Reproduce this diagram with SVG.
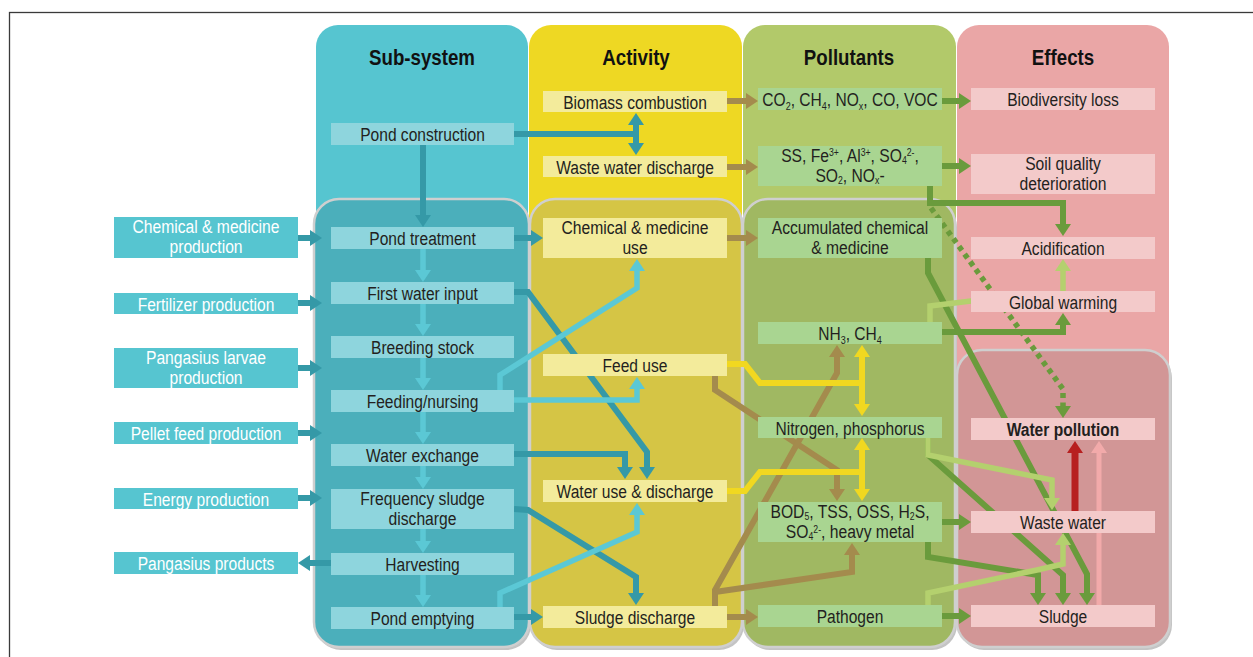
<svg xmlns="http://www.w3.org/2000/svg" width="1253" height="657" viewBox="0 0 1253 657">
<defs>
<style>
.t{font-family:"Liberation Sans",Arial,sans-serif;font-size:19px;fill:#231F20;text-anchor:middle}
.t2{font-size:18px}
.tw{fill:#FFFFFF}
.tb{font-weight:bold}
.hd{font-family:"Liberation Sans",Arial,sans-serif;font-size:22px;font-weight:bold;fill:#111;text-anchor:middle}
.sb{font-size:11px}
.s2{font-size:10px}
.ln{fill:none;stroke-linejoin:miter}
.teal{stroke:#3599A7;stroke-width:6}
.cyan{stroke:#5BC8D5;stroke-width:5.5}
.brown{stroke:#A48B4D;stroke-width:6}
.yel{stroke:#F1D820;stroke-width:6}
.dg{stroke:#6A9B3C;stroke-width:6}
.lg{stroke:#B4D06E;stroke-width:5.5}
.red{stroke:#B71F1F;stroke-width:7}
.pink{stroke:#F2AAAA;stroke-width:5}
.dot{stroke:#6A9B3C;stroke-width:5.5;stroke-dasharray:5 4.5}
.bc{fill:#8ED5DD}
.be{fill:#56C5D0}
.by{fill:#F3EB9B}
.bg{fill:#A9D591}
.bp{fill:#F3CACA}
.inner{stroke:#CFCFCF;stroke-width:2.5}
.shadow{fill:#C4C4C4}
</style>
<marker id="m-teal" viewBox="0 0 12 16" refX="1" refY="8" markerWidth="12" markerHeight="16" markerUnits="userSpaceOnUse" orient="auto-start-reverse"><path d="M0,0L12,8L0,16z" fill="#3599A7"/></marker>
<marker id="m-cyan" viewBox="0 0 12 16" refX="1" refY="8" markerWidth="12" markerHeight="16" markerUnits="userSpaceOnUse" orient="auto-start-reverse"><path d="M0,0L12,8L0,16z" fill="#5BC8D5"/></marker>
<marker id="m-brown" viewBox="0 0 12 16" refX="1" refY="8" markerWidth="12" markerHeight="16" markerUnits="userSpaceOnUse" orient="auto-start-reverse"><path d="M0,0L12,8L0,16z" fill="#A48B4D"/></marker>
<marker id="m-yel" viewBox="0 0 12 16" refX="1" refY="8" markerWidth="12" markerHeight="16" markerUnits="userSpaceOnUse" orient="auto-start-reverse"><path d="M0,0L12,8L0,16z" fill="#F1D820"/></marker>
<marker id="m-dg" viewBox="0 0 12 16" refX="1" refY="8" markerWidth="12" markerHeight="16" markerUnits="userSpaceOnUse" orient="auto-start-reverse"><path d="M0,0L12,8L0,16z" fill="#6A9B3C"/></marker>
<marker id="m-lg" viewBox="0 0 12 16" refX="1" refY="8" markerWidth="12" markerHeight="16" markerUnits="userSpaceOnUse" orient="auto-start-reverse"><path d="M0,0L12,8L0,16z" fill="#B4D06E"/></marker>
<marker id="m-red" viewBox="0 0 12 16" refX="1" refY="8" markerWidth="12" markerHeight="16" markerUnits="userSpaceOnUse" orient="auto-start-reverse"><path d="M0,0L12,8L0,16z" fill="#B71F1F"/></marker>
<marker id="m-pink" viewBox="0 0 12 16" refX="1" refY="8" markerWidth="12" markerHeight="16" markerUnits="userSpaceOnUse" orient="auto-start-reverse"><path d="M0,0L12,8L0,16z" fill="#F2AAAA"/></marker>
</defs>
<rect x="0" y="0" width="1253" height="657" fill="#FFFFFF"/>
<rect x="9.5" y="12.5" width="1300" height="700" fill="none" stroke="#3a3a3a" stroke-width="1.3"/>

<g id="panels">
<rect x="316" y="25" width="212" height="300" rx="22" fill="#56C5D0"/>
<rect x="529" y="25" width="213" height="300" rx="22" fill="#EED823"/>
<rect x="743" y="25" width="213" height="300" rx="22" fill="#B2C96A"/>
<rect x="957" y="25" width="212" height="420" rx="22" fill="#EAA6A6"/>
<rect class="shadow" x="316" y="202" width="215" height="448" rx="25"/>
<rect class="inner" x="314" y="199" width="215" height="448" rx="25" fill="#4BAFBB"/>
<rect class="shadow" x="532" y="202" width="212" height="448" rx="25"/>
<rect class="inner" x="530" y="199" width="212" height="448" rx="25" fill="#D5C545"/>
<rect class="shadow" x="745" y="202" width="212" height="448" rx="25"/>
<rect class="inner" x="743" y="199" width="212" height="448" rx="25" fill="#A0B862"/>
<rect class="shadow" x="959" y="353" width="213" height="297" rx="25"/>
<rect class="inner" x="957" y="350" width="213" height="297" rx="25" fill="#D29696"/>
<text class="hd" transform="translate(422 65) scale(.85 1)">Sub-system</text>
<text class="hd" transform="translate(636 65) scale(.85 1)">Activity</text>
<text class="hd" transform="translate(849 65) scale(.85 1)">Pollutants</text>
<text class="hd" transform="translate(1063 65) scale(.85 1)">Effects</text>
</g>

<g id="connectors">
<!-- teal -->
<path class="ln teal" d="M423,145V216" marker-end="url(#m-teal)"/>
<path class="ln teal" d="M514,134H636"/>
<path class="ln teal" d="M636,124V144" marker-start="url(#m-teal)" marker-end="url(#m-teal)"/>
<path class="ln teal" d="M514,238H532" marker-end="url(#m-teal)"/>
<path class="ln teal" d="M514,292H528L647,452V468" marker-end="url(#m-teal)"/>
<path class="ln teal" d="M514,454H625V468" marker-end="url(#m-teal)"/>
<path class="ln teal" d="M514,509L528,510L636,577V594" marker-end="url(#m-teal)"/>
<path class="ln teal" d="M514,617H532" marker-end="url(#m-teal)"/>
<path class="ln teal" d="M331,563H309" marker-end="url(#m-teal)"/>
<path class="ln teal" d="M298,238H311" marker-end="url(#m-teal)"/>
<path class="ln teal" d="M298,303H311" marker-end="url(#m-teal)"/>
<path class="ln teal" d="M298,368H311" marker-end="url(#m-teal)"/>
<path class="ln teal" d="M298,433H311" marker-end="url(#m-teal)"/>
<path class="ln teal" d="M298,498H311" marker-end="url(#m-teal)"/>
<!-- light cyan -->
<path class="ln cyan" d="M423,249V271" marker-end="url(#m-cyan)"/>
<path class="ln cyan" d="M423,304V325" marker-end="url(#m-cyan)"/>
<path class="ln cyan" d="M423,358V379" marker-end="url(#m-cyan)"/>
<path class="ln cyan" d="M423,412V433" marker-end="url(#m-cyan)"/>
<path class="ln cyan" d="M423,466V478" marker-end="url(#m-cyan)"/>
<path class="ln cyan" d="M423,529V542" marker-end="url(#m-cyan)"/>
<path class="ln cyan" d="M423,575V596" marker-end="url(#m-cyan)"/>
<path class="ln cyan" d="M500,390V375L637,288V270" marker-end="url(#m-cyan)"/>
<path class="ln cyan" d="M514,400H637V388" marker-end="url(#m-cyan)"/>
<path class="ln cyan" d="M500,607V593L637,532V514" marker-end="url(#m-cyan)"/>
<!-- brown -->
<path class="ln brown" d="M727,101H747" marker-end="url(#m-brown)"/>
<path class="ln brown" d="M727,167H747" marker-end="url(#m-brown)"/>
<path class="ln brown" d="M727,238H747" marker-end="url(#m-brown)"/>
<path class="ln brown" d="M727,617H747" marker-end="url(#m-brown)"/>
<path class="ln brown" d="M715,376V390L837,470V490" marker-end="url(#m-brown)"/>
<path class="ln brown" d="M715,606V590L837,373V356" marker-end="url(#m-brown)"/>
<path class="ln brown" d="M715,592L852,572V554" marker-end="url(#m-brown)"/>
<!-- yellow -->
<path class="ln yel" d="M727,364H745L760,383H862"/>
<path class="ln yel" d="M862,356V405" marker-start="url(#m-yel)" marker-end="url(#m-yel)"/>
<path class="ln yel" d="M727,491H745L760,472H862"/>
<path class="ln yel" d="M862,449V490" marker-start="url(#m-yel)" marker-end="url(#m-yel)"/>
<!-- dark green -->
<path class="ln dg" d="M942,101H960" marker-end="url(#m-dg)"/>
<path class="ln dg" d="M942,166H960" marker-end="url(#m-dg)"/>
<path class="ln dg" d="M930,186V203H1063V225" marker-end="url(#m-dg)"/>
<path class="ln dg" d="M942,332H1063V324" marker-end="url(#m-dg)"/>
<path class="ln dg" d="M928,258V273L1087,574V594" marker-end="url(#m-dg)"/>
<path class="ln dg" d="M928,438V455L1063,575V594" marker-end="url(#m-dg)"/>
<path class="ln dg" d="M942,522H960" marker-end="url(#m-dg)"/>
<path class="ln dg" d="M928,542V557L1038,575V594" marker-end="url(#m-dg)"/>
<path class="ln dg" d="M942,616H960" marker-end="url(#m-dg)"/>
<path class="ln dot" d="M931,208L1063,389V407" marker-end="url(#m-dg)"/>
<!-- light green -->
<path class="ln lg" d="M930,322V306L971,301L1063,298V270" marker-end="url(#m-lg)"/>
<path class="ln lg" d="M928,438V455L1052,480V499" marker-end="url(#m-lg)"/>
<path class="ln lg" d="M928,605V593L1037,570L1063,564V544" marker-end="url(#m-lg)"/>
<!-- to water pollution -->
<path class="ln red" d="M1075,511V452" marker-end="url(#m-red)"/>
<path class="ln pink" d="M1099,605V452" marker-end="url(#m-pink)"/>
</g>

<g id="n-chem-prod"><rect class="be" x="114" y="217" width="184" height="41"/><text class="t t2 tw" transform="translate(206 233) scale(.87 1)"><tspan x="0">Chemical &amp; medicine</tspan><tspan x="0" dy="20.3">production</tspan></text></g>
<g id="n-fertilizer"><rect class="be" x="114" y="293" width="184" height="21"/><text class="t tw" transform="translate(206 310.5) scale(.82 1)">Fertilizer production</text></g>
<g id="n-larvae"><rect class="be" x="114" y="348" width="184" height="40"/><text class="t t2 tw" transform="translate(206 364) scale(.87 1)"><tspan x="0">Pangasius larvae</tspan><tspan x="0" dy="20.3">production</tspan></text></g>
<g id="n-pellet"><rect class="be" x="114" y="422" width="184" height="22"/><text class="t tw" transform="translate(206 439.5) scale(.82 1)">Pellet feed production</text></g>
<g id="n-energy"><rect class="be" x="114" y="488" width="184" height="21"/><text class="t tw" transform="translate(206 505.5) scale(.82 1)">Energy production</text></g>
<g id="n-products"><rect class="be" x="114" y="552" width="184" height="22"/><text class="t tw" transform="translate(206 569.5) scale(.82 1)">Pangasius products</text></g>

<g id="n-pond-construction"><rect class="bc" x="331" y="123" width="183" height="22"/><text class="t" transform="translate(422.5 141) scale(.82 1)">Pond construction</text></g>
<g id="n-pond-treatment"><rect class="bc" x="331" y="227" width="183" height="22"/><text class="t" transform="translate(422.5 245) scale(.82 1)">Pond treatment</text></g>
<g id="n-first-water"><rect class="bc" x="331" y="282" width="183" height="22"/><text class="t" transform="translate(422.5 300) scale(.82 1)">First water input</text></g>
<g id="n-breeding"><rect class="bc" x="331" y="336" width="183" height="22"/><text class="t" transform="translate(422.5 354) scale(.82 1)">Breeding stock</text></g>
<g id="n-feeding"><rect class="bc" x="331" y="390" width="183" height="22"/><text class="t" transform="translate(422.5 408) scale(.82 1)">Feeding/nursing</text></g>
<g id="n-water-exchange"><rect class="bc" x="331" y="444" width="183" height="22"/><text class="t" transform="translate(422.5 462) scale(.82 1)">Water exchange</text></g>
<g id="n-freq-sludge"><rect class="bc" x="331" y="489" width="183" height="40"/><text class="t t2" transform="translate(422.5 505) scale(.87 1)"><tspan x="0">Frequency sludge</tspan><tspan x="0" dy="20.3">discharge</tspan></text></g>
<g id="n-harvesting"><rect class="bc" x="331" y="553" width="183" height="22"/><text class="t" transform="translate(422.5 571) scale(.82 1)">Harvesting</text></g>
<g id="n-pond-emptying"><rect class="bc" x="331" y="607" width="183" height="22"/><text class="t" transform="translate(422.5 625) scale(.82 1)">Pond emptying</text></g>

<g id="n-biomass"><rect class="by" x="543" y="91" width="184" height="21"/><text class="t" transform="translate(635 108.5) scale(.82 1)">Biomass combustion</text></g>
<g id="n-ww-discharge"><rect class="by" x="543" y="156" width="184" height="21"/><text class="t" transform="translate(635 173.5) scale(.82 1)">Waste water discharge</text></g>
<g id="n-chem-use"><rect class="by" x="543" y="218" width="184" height="40"/><text class="t t2" transform="translate(635 234) scale(.87 1)"><tspan x="0">Chemical &amp; medicine</tspan><tspan x="0" dy="20.3">use</tspan></text></g>
<g id="n-feed-use"><rect class="by" x="543" y="354" width="184" height="22"/><text class="t" transform="translate(635 372) scale(.82 1)">Feed use</text></g>
<g id="n-water-use"><rect class="by" x="543" y="480" width="184" height="22"/><text class="t" transform="translate(635 498) scale(.82 1)">Water use &amp; discharge</text></g>
<g id="n-sludge-discharge"><rect class="by" x="543" y="606" width="184" height="22"/><text class="t" transform="translate(635 624) scale(.82 1)">Sludge discharge</text></g>

<g id="n-co2"><rect class="bg" x="758" y="88" width="184" height="22"/><text class="t" transform="translate(850 106) scale(.82 1)">CO<tspan class="sb" dy="4">2</tspan><tspan dy="-4">, CH</tspan><tspan class="sb" dy="4">4</tspan><tspan dy="-4">, NO</tspan><tspan class="sb" dy="4">x</tspan><tspan dy="-4">, CO, VOC</tspan></text></g>
<g id="n-ss"><rect class="bg" x="758" y="146" width="184" height="40"/><text class="t t2" transform="translate(850 162) scale(.87 1)">SS, Fe<tspan class="s2" dy="-6">3+</tspan><tspan dy="6">, Al</tspan><tspan class="s2" dy="-6">3+</tspan><tspan dy="6">, SO</tspan><tspan class="s2" dy="2">4</tspan><tspan class="s2" dy="-8">2-</tspan><tspan dy="6">,</tspan><tspan x="0" dy="20.5">SO</tspan><tspan class="s2" dy="2">2</tspan><tspan dy="-2">, NO</tspan><tspan class="s2" dy="2">x</tspan><tspan dy="-2">-</tspan></text></g>
<g id="n-accum"><rect class="bg" x="758" y="218" width="184" height="40"/><text class="t t2" transform="translate(850 234) scale(.87 1)"><tspan x="0">Accumulated chemical</tspan><tspan x="0" dy="20.3">&amp; medicine</tspan></text></g>
<g id="n-nh3"><rect class="bg" x="758" y="322" width="184" height="22"/><text class="t" transform="translate(850 340) scale(.82 1)">NH<tspan class="sb" dy="4">3</tspan><tspan dy="-4">, CH</tspan><tspan class="sb" dy="4">4</tspan></text></g>
<g id="n-nitrogen"><rect class="bg" x="758" y="417" width="184" height="21"/><text class="t" transform="translate(850 434.5) scale(.82 1)">Nitrogen, phosphorus</text></g>
<g id="n-bod"><rect class="bg" x="758" y="502" width="184" height="40"/><text class="t t2" transform="translate(850 517.5) scale(.87 1)">BOD<tspan class="s2" dy="2">5</tspan><tspan dy="-2">, TSS, OSS, H</tspan><tspan class="s2" dy="2">2</tspan><tspan dy="-2">S,</tspan><tspan x="0" dy="20.7">SO</tspan><tspan class="s2" dy="2">4</tspan><tspan class="s2" dy="-7">2-</tspan><tspan dy="5">, heavy metal</tspan></text></g>
<g id="n-pathogen"><rect class="bg" x="758" y="605" width="184" height="22"/><text class="t" transform="translate(850 623) scale(.82 1)">Pathogen</text></g>

<g id="n-biodiversity"><rect class="bp" x="971" y="88" width="184" height="22"/><text class="t" transform="translate(1063 106) scale(.82 1)">Biodiversity loss</text></g>
<g id="n-soil"><rect class="bp" x="971" y="154" width="184" height="40"/><text class="t t2" transform="translate(1063 170) scale(.87 1)"><tspan x="0">Soil quality</tspan><tspan x="0" dy="20.3">deterioration</tspan></text></g>
<g id="n-acidification"><rect class="bp" x="971" y="237" width="184" height="22"/><text class="t" transform="translate(1063 255) scale(.82 1)">Acidification</text></g>
<g id="n-global-warming"><rect class="bp" x="971" y="291" width="184" height="21"/><text class="t" transform="translate(1063 308.5) scale(.82 1)">Global warming</text></g>
<g id="n-water-pollution"><rect class="bp" x="971" y="418" width="184" height="22"/><text class="t tb" transform="translate(1063 436) scale(.82 1)">Water pollution</text></g>
<g id="n-waste-water"><rect class="bp" x="971" y="511" width="184" height="22"/><text class="t" transform="translate(1063 529) scale(.82 1)">Waste water</text></g>
<g id="n-sludge"><rect class="bp" x="971" y="605" width="184" height="22"/><text class="t" transform="translate(1063 623) scale(.82 1)">Sludge</text></g>
</svg>
